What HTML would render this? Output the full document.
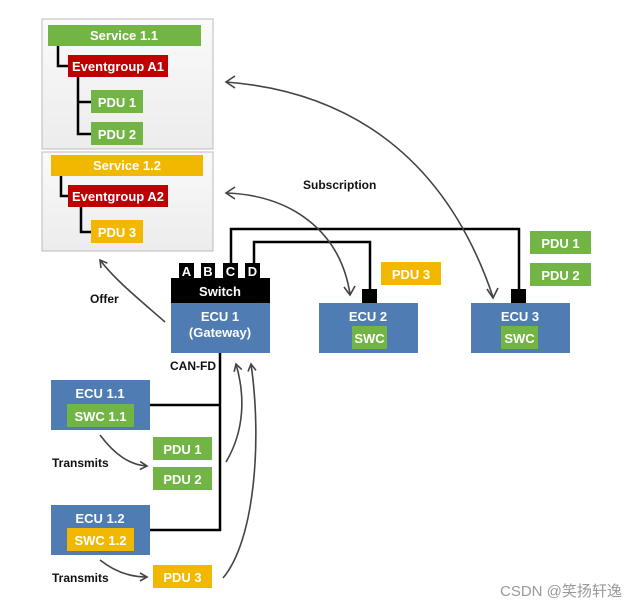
<!DOCTYPE html>
<html><head><meta charset="utf-8"><style>
html,body{margin:0;padding:0;background:#fff;}
svg{display:block;}
text{font-family:"Liberation Sans",sans-serif;font-weight:bold;}
.w{fill:#fff;font-size:13px;text-anchor:middle;}
.k{fill:#111;font-size:12px;}
</style></head><body>
<svg width="640" height="608" viewBox="0 0 640 608" xmlns="http://www.w3.org/2000/svg">
<defs>
<linearGradient id="pg" x1="0" y1="0" x2="0" y2="1"><stop offset="0" stop-color="#fafafa"/><stop offset="1" stop-color="#ececec"/></linearGradient>
<marker id="ah" markerWidth="10" markerHeight="10" refX="8" refY="5" orient="auto" markerUnits="userSpaceOnUse"><path d="M1,1 L8,5 L1,9" fill="none" stroke="#444" stroke-width="1.6"/></marker>
</defs>
<rect x="42" y="19" width="171" height="130" fill="url(#pg)" stroke="#bbb"/>
<rect x="42" y="152" width="171" height="99" fill="url(#pg)" stroke="#bbb"/>
<g stroke="#000" stroke-width="2.5" fill="none">
<path d="M58,45 V66 H68"/>
<path d="M78,77 V134 H91 M78,102 H91"/>
<path d="M61,176 V196 H68"/>
<path d="M81,207 V232 H91"/>
</g>
<rect x="48" y="25" width="153" height="21" fill="#72b545"/><text class="w" x="124" y="40">Service 1.1</text>
<rect x="68" y="55" width="100" height="22" fill="#c00000"/><text class="w" x="118" y="71">Eventgroup A1</text>
<rect x="91" y="90" width="52" height="23" fill="#72b545"/><text class="w" x="117" y="107">PDU 1</text>
<rect x="91" y="122" width="52" height="23" fill="#72b545"/><text class="w" x="117" y="139">PDU 2</text>
<rect x="51" y="155" width="152" height="21" fill="#f2b800"/><text class="w" x="127" y="170">Service 1.2</text>
<rect x="68" y="185" width="100" height="22" fill="#c00000"/><text class="w" x="118" y="201">Eventgroup A2</text>
<rect x="91" y="220" width="52" height="23" fill="#f2b800"/><text class="w" x="117" y="237">PDU 3</text>
<g stroke="#000" stroke-width="2.5" fill="none">
<path d="M231,264 V229 H519 V290"/>
<path d="M254,264 V242 H370 V290"/>
<path d="M220,353 V530 H150 M150,405 H220"/>
</g>
<rect x="179" y="263" width="15" height="16" fill="#000"/><text class="w" x="186.5" y="276" font-size="12">A</text>
<rect x="201" y="263" width="14" height="16" fill="#000"/><text class="w" x="208" y="276" font-size="12">B</text>
<rect x="223" y="263" width="15" height="16" fill="#000"/><text class="w" x="230.5" y="276" font-size="12">C</text>
<rect x="245" y="263" width="15" height="16" fill="#000"/><text class="w" x="252.5" y="276" font-size="12">D</text>
<rect x="171" y="278" width="99" height="25" fill="#000"/><text class="w" x="220" y="296">Switch</text>
<rect x="171" y="303" width="99" height="50" fill="#4f7db3"/>
<text class="w" x="220" y="321">ECU 1</text><text class="w" x="220" y="337">(Gateway)</text>
<rect x="362" y="289" width="15" height="15" fill="#000"/>
<rect x="319" y="303" width="99" height="50" fill="#4f7db3"/><text class="w" x="368" y="321">ECU 2</text>
<rect x="352" y="326" width="35" height="23" fill="#72b545"/><text class="w" x="369.5" y="343">SWC</text>
<rect x="381" y="262" width="60" height="23" fill="#f2b800"/><text class="w" x="411" y="279">PDU 3</text>
<rect x="511" y="289" width="15" height="15" fill="#000"/>
<rect x="471" y="303" width="99" height="50" fill="#4f7db3"/><text class="w" x="520" y="321">ECU 3</text>
<rect x="501" y="326" width="37" height="23" fill="#72b545"/><text class="w" x="519.5" y="343">SWC</text>
<rect x="530" y="231" width="61" height="23" fill="#72b545"/><text class="w" x="560.5" y="248">PDU 1</text>
<rect x="530" y="263" width="61" height="23" fill="#72b545"/><text class="w" x="560.5" y="280">PDU 2</text>
<rect x="51" y="380" width="99" height="50" fill="#4f7db3"/><text class="w" x="100" y="398">ECU 1.1</text>
<rect x="67" y="404" width="67" height="23" fill="#72b545"/><text class="w" x="100.5" y="421">SWC 1.1</text>
<rect x="153" y="437" width="59" height="23" fill="#72b545"/><text class="w" x="182.5" y="454">PDU 1</text>
<rect x="153" y="467" width="59" height="23" fill="#72b545"/><text class="w" x="182.5" y="484">PDU 2</text>
<rect x="51" y="505" width="99" height="50" fill="#4f7db3"/><text class="w" x="100" y="523">ECU 1.2</text>
<rect x="67" y="528" width="67" height="23" fill="#f2b800"/><text class="w" x="100.5" y="545">SWC 1.2</text>
<rect x="153" y="565" width="59" height="23" fill="#f2b800"/><text class="w" x="182.5" y="582">PDU 3</text>
<text class="k" x="303" y="189">Subscription</text>
<text class="k" x="90" y="303">Offer</text>
<text class="k" x="170" y="370">CAN-FD</text>
<text class="k" x="52" y="467">Transmits</text>
<text class="k" x="52" y="582">Transmits</text>
<text x="500" y="596" style="font-family:'Liberation Sans','Noto Sans CJK SC',sans-serif;font-weight:normal;font-size:15px;fill:#999">CSDN @笑扬轩逸</text>
<g stroke="#444" stroke-width="1.6" fill="none" marker-end="url(#ah)">
<path d="M226,82 C330,90 440,140 493,297" marker-end="none"/>
<path d="M226,193 C290,195 340,230 350,294" marker-end="none"/>
<path d="M165,322 C140,300 115,280 100,260"/>
<path d="M100,435 C115,455 130,465 147,466"/>
<path d="M100,560 C115,572 130,577 147,577"/>
<path d="M226,462 C245,430 245,395 236,364"/>
<path d="M223,578 C255,540 262,440 251,364"/>
</g>
<g stroke="#444" stroke-width="1.6" fill="none">
<path d="M235,76 L226,82 L235,88"/>
<path d="M235,187 L226,193 L235,199"/>
<path d="M487,289 L493,298 L498,288"/>
<path d="M344,287 L350,295 L355,286"/>
</g>
</svg>
</body></html>
